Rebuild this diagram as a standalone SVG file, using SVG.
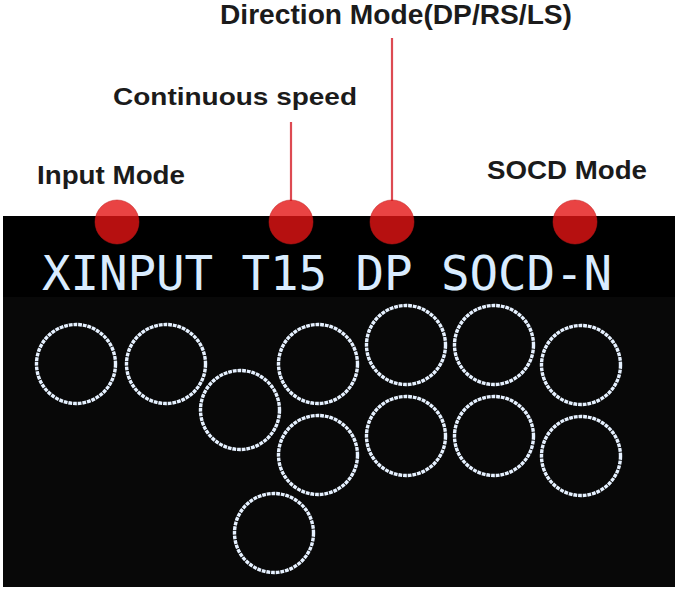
<svg xmlns="http://www.w3.org/2000/svg" width="679" height="591" viewBox="0 0 679 591">
  <style>
    .lbl { font-family: "Liberation Sans", Arial, sans-serif; font-weight: bold; fill: #1b1b1b; }
    .lcd { font-family: "DejaVu Sans Mono", "Liberation Mono", monospace; fill: #d9ecff; }
    .btn { fill: none; stroke: #e6f1ff; stroke-width: 3.4; stroke-dasharray: 3.8 0.9; }
    .dot { fill: #e41414; fill-opacity: 0.8; stroke: #c01818; stroke-opacity: 0.5; stroke-width: 1; }
    .lead { stroke: #dd4a52; stroke-width: 2.2; fill: none; }
  </style>
  <rect x="0" y="0" width="679" height="591" fill="#ffffff"/>

  <g id="display">
    <rect x="3" y="216" width="672" height="371" fill="#080808"/>
    <rect x="3" y="216" width="672" height="81" fill="#000000"/>
    <text class="lcd" x="42" y="290" font-size="47.5" textLength="570" lengthAdjust="spacing">XINPUT T15 DP SOCD-N</text>
  </g>

  <g id="buttons">
    <g id="btn-a"><circle class="btn" cx="76" cy="364" r="39.5"/></g>
    <g id="btn-b"><circle class="btn" cx="166" cy="364" r="39.5"/></g>
    <g id="btn-c"><circle class="btn" cx="240" cy="410" r="39.5"/></g>
    <g id="btn-d"><circle class="btn" cx="318" cy="364" r="39.5"/></g>
    <g id="btn-e"><circle class="btn" cx="318" cy="455" r="39.5"/></g>
    <g id="btn-f"><circle class="btn" cx="274" cy="533" r="39.5"/></g>
    <g id="btn-g"><circle class="btn" cx="406" cy="345" r="39.5"/></g>
    <g id="btn-h"><circle class="btn" cx="494" cy="345" r="39.5"/></g>
    <g id="btn-i"><circle class="btn" cx="406" cy="436" r="39.5"/></g>
    <g id="btn-j"><circle class="btn" cx="494" cy="436" r="39.5"/></g>
    <g id="btn-k"><circle class="btn" cx="581" cy="365" r="39.5"/></g>
    <g id="btn-l"><circle class="btn" cx="581" cy="456" r="39.5"/></g>
  </g>

  <g id="connectors">
    <line class="lead" x1="291" y1="122" x2="291" y2="201"/>
    <line class="lead" x1="392" y1="38" x2="392" y2="201"/>
  </g>

  <g id="input-mode">
    <text class="lbl" x="37" y="184" font-size="26" textLength="148" lengthAdjust="spacingAndGlyphs">Input Mode</text>
    <circle class="dot" cx="117" cy="222" r="22"/>
  </g>
  <g id="continuous-speed">
    <text class="lbl" x="113" y="105" font-size="24" textLength="244" lengthAdjust="spacingAndGlyphs">Continuous speed</text>
    <circle class="dot" cx="291" cy="222" r="22"/>
  </g>
  <g id="direction-mode">
    <text class="lbl" x="220" y="24" font-size="28" textLength="352" lengthAdjust="spacingAndGlyphs">Direction Mode(DP/RS/LS)</text>
    <circle class="dot" cx="392" cy="222" r="22"/>
  </g>
  <g id="socd-mode">
    <text class="lbl" x="487" y="179" font-size="25" textLength="160" lengthAdjust="spacingAndGlyphs">SOCD Mode</text>
    <circle class="dot" cx="575" cy="222" r="22"/>
  </g>
</svg>
